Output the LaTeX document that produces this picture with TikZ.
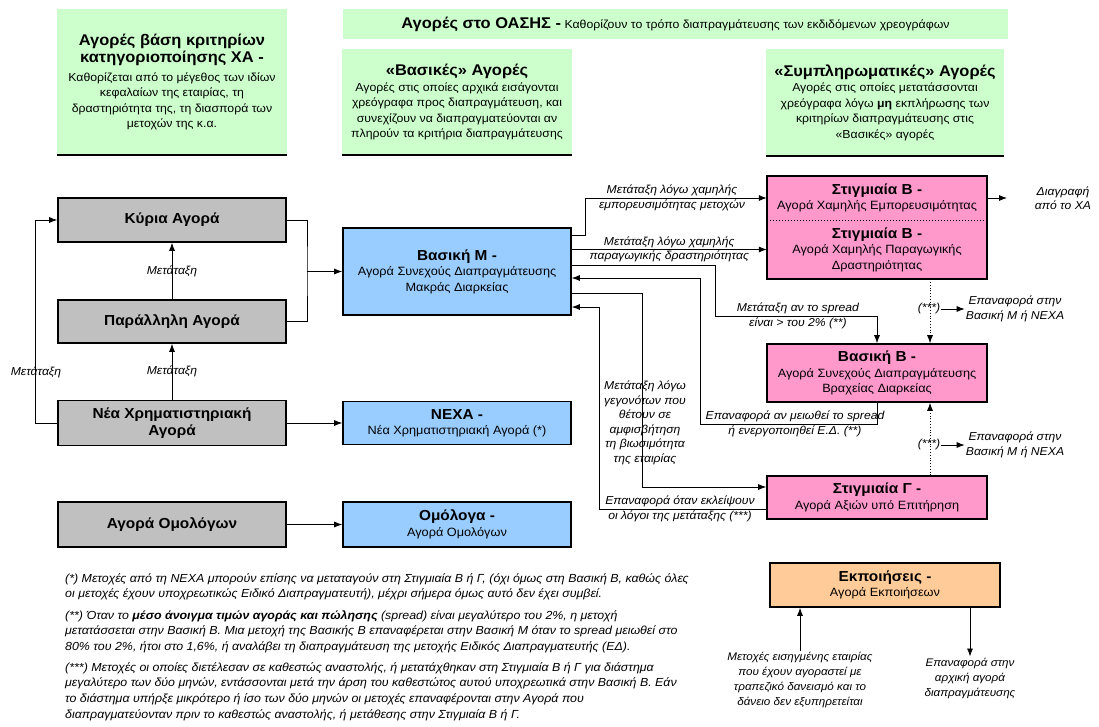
\documentclass[tikz,border=0pt]{standalone}
\usepackage{fontspec}
\setmainfont[FakeStretch=1.06]{Liberation Sans}
\usetikzlibrary{arrows.meta, positioning}
\definecolor{hdrgreen}{RGB}{204,255,204}
\definecolor{mktgrey}{RGB}{192,192,192}
\definecolor{mktblue}{RGB}{153,204,255}
\definecolor{mktpink}{RGB}{255,153,204}
\definecolor{mktorange}{RGB}{255,204,153}
\newcommand{\mtitle}[1]{{\fontsize{14.5}{17}\selectfont\bfseries #1}}
\newcommand{\htitle}[1]{{\fontsize{15.5}{18}\selectfont\bfseries #1}}

\begin{document}
\begin{tikzpicture}[x=1pt, y=-1pt,
    gbox/.style={draw, line width=1.6pt, fill=mktgrey, minimum width=228pt, align=center, font=\bfseries\fontsize{14.5}{17}\selectfont},
    bbox/.style={draw, line width=1.6pt, fill=mktblue, minimum width=228pt, align=center, font=\fontsize{12}{15.5}\selectfont},
    pbox/.style={fill=mktpink, minimum width=220pt, align=center, font=\fontsize{12}{15.5}\selectfont},
    hdr/.style={fill=hdrgreen, align=center, inner sep=0pt, font=\fontsize{11.6}{15.5}\selectfont},
    lbl/.style={font=\itshape\fontsize{11.5}{14.5}\selectfont, align=center, inner sep=1pt},
    note/.style={font=\itshape\fontsize{11.7}{15.8}\selectfont, align=left, anchor=north west, inner sep=0pt},
    conn/.style={-{Latex[length=8pt,width=6pt]}, line width=0.8pt},
    wire/.style={line width=0.8pt}]
    \useasboundingbox (0,0) rectangle (1099,726);

    % Header boxes
    \node[hdr, minimum width=230pt, minimum height=146pt] (hcrit) at (172,82)
        {\htitle{Αγορές βάση κριτηρίων}\\[2pt]\htitle{κατηγοριοποίησης ΧΑ -}\\[3pt]
         Καθορίζεται από το μέγεθος των ιδίων\\κεφαλαίων της εταιρίας, τη\\
         δραστηριότητα της, τη διασπορά των\\μετοχών της κ.α.};
    \draw[line width=2pt] (hcrit.south west) -- (hcrit.south east);
    \node[hdr, minimum width=665pt, minimum height=30pt] (hoasis) at (675.5,24)
        {\htitle{Αγορές στο ΟΑΣΗΣ -} Καθορίζουν το τρόπο διαπραγμάτευσης των εκδιδόμενων χρεογράφων};
    \node[hdr, minimum width=230pt, minimum height=106pt] (hbasic) at (457,102)
        {\htitle{«Βασικές» Αγορές}\\Αγορές στις οποίες αρχικά εισάγονται\\
         χρεόγραφα προς διαπραγμάτευση, και\\συνεχίζουν να διαπραγματεύονται αν\\
         πληρούν τα κριτήρια διαπραγμάτευσης};
    \draw[line width=2pt] (hbasic.south west) -- (hbasic.south east);
    \node[hdr, minimum width=238pt, minimum height=107pt] (hsuppl) at (885,102.5)
        {\htitle{«Συμπληρωματικές» Αγορές}\\Αγορές στις οποίες μετατάσσονται\\
         χρεόγραφα λόγω \textbf{μη} εκπλήρωσης των\\κριτηρίων διαπραγμάτευσης στις\\
         «Βασικές» αγορές};
    \draw[line width=2pt] (hsuppl.south west) -- (hsuppl.south east);

    % Markets by criteria (grey)
    \node[gbox, minimum height=44pt] (kyria) at (172,220) {Κύρια Αγορά};
    \node[gbox, minimum height=43pt] (parall) at (172,321.5) {Παράλληλη Αγορά};
    \node[gbox, minimum height=45pt, inner sep=1pt] (nea) at (172,423) {Νέα Χρηματιστηριακή\\Αγορά};
    \node[gbox, minimum height=45pt] (bonds) at (172,524.5) {Αγορά Ομολόγων};

    % Basic markets (blue)
    \node[bbox, minimum height=87pt] (basm) at (457,271.5)
        {\mtitle{Βασική Μ -}\\Αγορά Συνεχούς Διαπραγμάτευσης\\Μακράς Διαρκείας};
    \node[bbox, minimum height=43pt] (nexa) at (457,423) {\mtitle{ΝΕΧΑ -}\\Νέα Χρηματιστηριακή Αγορά (*)};
    \node[bbox, minimum height=45pt] (omol) at (457,524.5) {\mtitle{Ομόλογα -}\\Αγορά Ομολόγων};

    % Supplementary markets (pink)
    \node[pbox, minimum height=44pt] (stigBa) at (877,198)
        {\mtitle{Στιγμιαία Β -}\\Αγορά Χαμηλής Εμπορευσιμότητας};
    \node[pbox, minimum height=59pt] (stigBb) at (877,249.5)
        {\mtitle{Στιγμιαία Β -}\\Αγορά Χαμηλής Παραγωγικής\\Δραστηριότητας};
    \draw[line width=1.6pt] (stigBa.north west) rectangle (stigBb.south east);
    \draw[dotted, line width=1pt] (stigBa.south west) -- (stigBa.south east);
    \node[pbox, draw, line width=1.6pt, minimum height=58pt] (basB) at (877,373)
        {\mtitle{Βασική Β -}\\Αγορά Συνεχούς Διαπραγμάτευσης\\Βραχείας Διαρκείας};
    \node[pbox, draw, line width=1.6pt, minimum height=43pt] (stigG) at (877,497.5)
        {\mtitle{Στιγμιαία Γ -}\\Αγορά Αξιών υπό Επιτήρηση};
    \node[pbox, draw, line width=1.6pt, fill=mktorange, minimum width=230pt, minimum height=44pt] (ekp) at (885,585)
        {\mtitle{Εκποιήσεις -}\\Αγορά Εκποιήσεων};

    % Left side transfers
    \coordinate (join) at (307,271.5);
    \draw[wire] (kyria.east) -| (join) |- (parall.east);
    \draw[conn] (join) -- (basm.west);
    \draw[conn] (parall.north) -- (kyria.south) node[lbl, midway] {Μετάταξη};
    \draw[conn] (nea.north) -- (parall.south) node[lbl, midway] {Μετάταξη};
    \draw[conn] (nea.west) -- ++(-22,0) |- (kyria.west);
    \node[lbl] at (36,372) {Μετάταξη};
    \draw[conn] (nea.east) -- (nexa.west);
    \draw[conn] (bonds.east) -- (omol.west);

    % From Basic M to supplementary markets
    \draw[conn] (basm.east |- 0,235) -- (585,235) |- (stigBa.west);
    \node[lbl, anchor=south] at (672,197) {Μετάταξη λόγω χαμηλής};
    \node[lbl, anchor=north] at (672,199) {εμπορευσιμότητας μετοχών};
    \draw[conn] (basm.east |- stigBb.west) -- (stigBb.west)
        node[lbl, midway, anchor=south] {Μετάταξη λόγω χαμηλής}
        node[lbl, midway, anchor=north] {παραγωγικής δραστηριότητας};
    \draw[conn] (basm.east |- 0,265) -| (715,316) -| (basB.north);
    \node[lbl, anchor=south] at (798,315) {Μετάταξη αν το spread};
    \node[lbl, anchor=north] at (798,317) {είναι > του 2\% (**)};
    \draw[conn] (basB.south) |- (700,424) |- (basm.east |- 0,278);
    \node[lbl, anchor=south] at (795,423) {Επαναφορά αν μειωθεί το spread};
    \node[lbl, anchor=north] at (795,425) {ή ενεργοποιηθεί Ε.Δ. (**)};
    \draw[conn] (basm.east |- 0,293) -| (642,487) -- (stigG.west |- 0,487);
    \node[lbl] at (645,423) {Μετάταξη λόγω\\γεγονότων που\\θέτουν σε\\αμφισβήτηση\\τη βιωσιμότητα\\της εταιρίας};
    \draw[conn] (stigG.west |- 0,509) -| (599,307) -- (basm.east |- 0,307);
    \node[lbl, anchor=south] at (680,508) {Επαναφορά όταν εκλείψουν};
    \node[lbl, anchor=north] at (680,510) {οι λόγοι της μετάταξης (***)};

    % Right side
    \coordinate (delist) at (1007,198);
    \draw[conn] (stigBa.east) -- (delist);
    \node[lbl] at (1063,198) {Διαγραφή\\από το ΧΑ};
    \draw[conn, dotted] (stigBb.south -| 930,0) -- (basB.north -| 930,0);
    \draw[conn, dotted] (stigG.north -| 930,0) -- (basB.south -| 930,0);
    \node[lbl] (starA) at (929,309) {(***)};
    \node[lbl] (backA) at (1015,309) {Επαναφορά στην\\Βασική Μ ή ΝΕΧΑ};
    \draw[conn] (starA) -- (backA);
    \node[lbl] (starB) at (929,445) {(***)};
    \node[lbl] (backB) at (1015,445) {Επαναφορά στην\\Βασική Μ ή ΝΕΧΑ};
    \draw[conn] (starB) -- (backB);

    % Liquidations
    \node[lbl, font=\itshape\fontsize{11}{15}\selectfont] (sold) at (800,680)
        {Μετοχές εισηγμένης εταιρίας\\που έχουν αγοραστεί με\\τραπεζικό δανεισμό και το\\δάνειο δεν εξυπηρετείται};
    \draw[conn] (sold.north) -- (ekp.south -| sold.north);
    \node[lbl, font=\itshape\fontsize{11}{15}\selectfont] (orig) at (970,678)
        {Επαναφορά στην\\αρχική αγορά\\διαπραγμάτευσης};
    \draw[conn] (ekp.south -| orig.north) -- (orig.north);

    % Footnotes
    \node[note] (fnA) at (65,573)
        {(*) Μετοχές από τη ΝΕΧΑ μπορούν επίσης να μεταταγούν στη Στιγμιαία Β ή Γ, (όχι όμως στη Βασική Β, καθώς όλες\\
         οι μετοχές έχουν υποχρεωτικώς Ειδικό Διαπραγματευτή), μέχρι σήμερα όμως αυτό δεν έχει συμβεί.};
    \node[note] (fnB) at (65,610)
        {(**) Όταν το \textbf{μέσο άνοιγμα τιμών αγοράς και πώλησης} (spread) είναι μεγαλύτερο του 2\%, η μετοχή\\
         μετατάσσεται στην Βασική Β. Μια μετοχή της Βασικής Β επαναφέρεται στην Βασική Μ όταν το spread μειωθεί στο\\
         80\% του 2\%, ήτοι στο 1,6\%, ή αναλάβει τη διαπραγμάτευση της μετοχής Ειδικός Διαπραγματευτής (ΕΔ).};
    \node[note] (fnC) at (65,662)
        {(***) Μετοχές οι οποίες διετέλεσαν σε καθεστώς αναστολής, ή μετατάχθηκαν στη Στιγμιαία Β ή Γ για διάστημα\\
         μεγαλύτερο των δύο μηνών, εντάσσονται μετά την άρση του καθεστώτος αυτού υποχρεωτικά στην Βασική Β. Εάν\\
         το διάστημα υπήρξε μικρότερο ή ίσο των δύο μηνών οι μετοχές επαναφέρονται στην Αγορά που\\
         διαπραγματεύονταν πριν το καθεστώς αναστολής, ή μετάθεσης στην Στιγμιαία Β ή Γ.};
\end{tikzpicture}
\end{document}
